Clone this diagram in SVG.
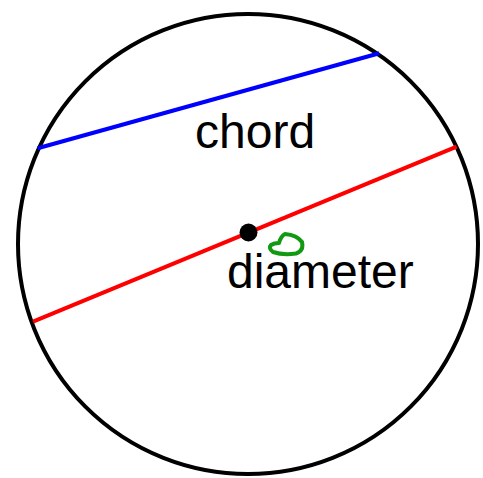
<svg xmlns="http://www.w3.org/2000/svg" width="483" height="478" viewBox="0 0 483 478">
<style>
.lbl{font-family:"Liberation Sans",Arial,sans-serif;font-size:48px;fill:#000}
</style>
<rect width="483" height="478" fill="#fff"/>
<g id="circle"><circle cx="248" cy="244" r="230" fill="none" stroke="#000" stroke-width="4"/></g>
<g id="connectors">
<line id="chord-line" x1="37.7" y1="148.3" x2="379.3" y2="53.3" stroke="#0000ff" stroke-width="4"/>
<line id="diameter-line" x1="33" y1="321.7" x2="456.7" y2="146.7" stroke="#ff0000" stroke-width="4"/>
</g>
<g id="center"><circle cx="248.5" cy="232.5" r="9" fill="#000"/></g>
<g id="mark"><path d="M 279 243 Q 281 236 285 234 Q 297 235 302 242 Q 304 251 296 253.5 Q 283 255.5 273 252 Q 268 248 271 245 Q 274 243 279 243" fill="none" stroke="#119911" stroke-width="4" stroke-linecap="round" stroke-linejoin="round"/></g>
<g id="chord-label"><text class="lbl" x="195" y="148">chord</text></g>
<g id="diameter-label"><text class="lbl" x="227" y="288">diameter</text></g>
</svg>
